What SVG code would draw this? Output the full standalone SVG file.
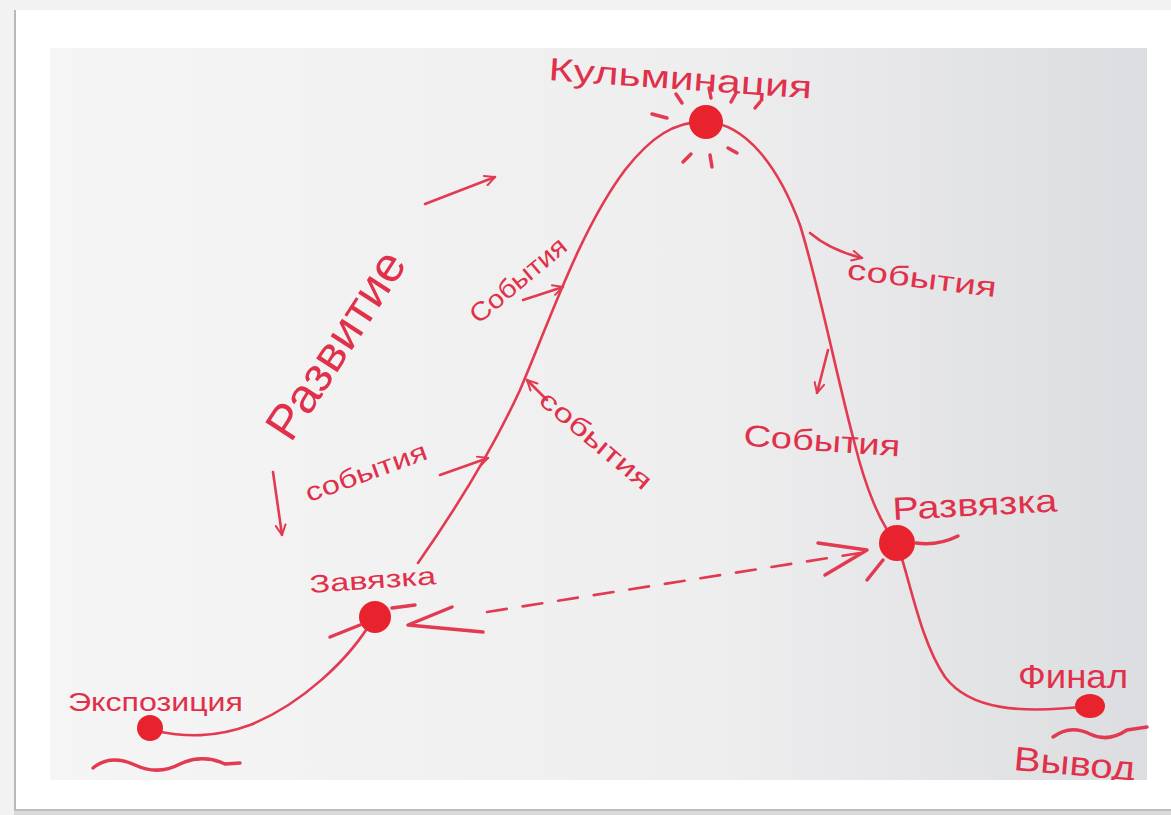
<svg xmlns="http://www.w3.org/2000/svg" width="1171" height="815" viewBox="0 0 1171 815">
<defs>
<linearGradient id="paper" x1="0" y1="0" x2="1" y2="0">
<stop offset="0" stop-color="#f5f5f5"/>
<stop offset="0.6" stop-color="#eeeeef"/>
<stop offset="1" stop-color="#dcdde0"/>
</linearGradient>
<clipPath id="photo"><rect x="50" y="48" width="1097" height="732"/></clipPath>
<marker id="ah" viewBox="0 0 12 12" refX="11" refY="6" markerWidth="12" markerHeight="12" markerUnits="userSpaceOnUse" orient="auto">
<path d="M1,1 L11,6 L1,11" fill="none" stroke="#e23a50" stroke-width="2" stroke-linecap="round"/>
</marker>
<style>
.ink{fill:none;stroke:#e23a50;stroke-width:2.6;stroke-linecap:round;stroke-linejoin:round}
.thick{stroke-width:3.5}
.dot{fill:#e8232e}
.lbl{font-family:"Liberation Sans","DejaVu Sans",sans-serif;fill:#e0304a}
</style>
</defs>
<!-- page frame -->
<rect x="0" y="0" width="1171" height="815" fill="#f2f2f2"/>
<rect x="16" y="10" width="1155" height="800" fill="#ffffff"/>
<rect x="14" y="10" width="2" height="800" fill="#b8b8b8"/>
<rect x="14" y="809" width="1157" height="2" fill="#bdbdbd"/>
<rect x="14" y="811" width="1157" height="4" fill="#dadada"/>
<rect x="50" y="48" width="1097" height="732" fill="url(#paper)"/>

<g id="connectors">
<path id="plot" class="ink" d="M418,563 C455,510 490,455 520,390 C550,320 580,230 625,170 C650,138 675,120 707,122 C745,124 778,165 800,225 C820,290 835,370 855,445 C865,485 880,525 897,543 C910,580 920,640 945,677 C970,710 1020,714 1090,706"/>
<path id="intro" class="ink" d="M374,617 C350,660 300,705 250,725 C215,738 185,737 155,731"/>
<path class="ink" d="M425,204 L495,177" marker-end="url(#ah)"/>
<path class="ink" d="M273,472 L282,535" marker-end="url(#ah)"/>
<path class="ink" d="M440,475 L488,458" marker-end="url(#ah)"/>
<path class="ink" d="M523,300 L563,287" marker-end="url(#ah)"/>
<path class="ink" d="M547,400 L527,380" marker-end="url(#ah)"/>
<path class="ink" d="M810,233 Q830,250 862,258" marker-end="url(#ah)"/>
<path class="ink" d="M828,350 L817,393" marker-end="url(#ah)"/>
<path id="dashed" class="ink" d="M487,612 L860,553" stroke-width="3" stroke-dasharray="20 16"/>
<path class="ink thick" d="M452,607 L408,625 L483,632"/>
<path class="ink thick" d="M818,543 L867,550 L825,575"/>
</g>

<g id="kulminacia">
<circle class="dot" cx="706" cy="122" r="17"/>
<path class="ink thick" d="M652,114 L667,118 M676,94 L682,103 M709,88 L711,98 M736,93 L731,102 M760,102 L755,108 M683,162 L691,154 M710,155 L712,167 M728,148 L737,153"/>
<text class="lbl" x="548" y="80" font-size="32" textLength="264" lengthAdjust="spacingAndGlyphs" transform="rotate(4 548 80)">Кульминация</text>
</g>

<g id="razvitie">
<text class="lbl" text-anchor="middle" font-size="48" textLength="215" lengthAdjust="spacingAndGlyphs" transform="translate(336,345) rotate(-57)" y="16">Развитие</text>
</g>

<g id="sobytia-left-upper">
<text class="lbl" text-anchor="middle" font-size="26" textLength="118" lengthAdjust="spacingAndGlyphs" transform="translate(518,280) rotate(-40)" y="9">События</text>
</g>
<g id="sobytia-left-lower">
<text class="lbl" text-anchor="middle" font-size="26" textLength="128" lengthAdjust="spacingAndGlyphs" transform="translate(366,472) rotate(-20)" y="9">события</text>
</g>
<g id="sobytia-diag">
<text class="lbl" text-anchor="middle" font-size="26" textLength="138" lengthAdjust="spacingAndGlyphs" transform="translate(596,440) rotate(40)" y="9">события</text>
</g>
<g id="sobytia-right-upper">
<text class="lbl" text-anchor="middle" font-size="28" textLength="150" lengthAdjust="spacingAndGlyphs" transform="translate(922,278) rotate(7)" y="10">события</text>
</g>
<g id="sobytia-right-lower">
<text class="lbl" text-anchor="middle" font-size="30" textLength="157" lengthAdjust="spacingAndGlyphs" transform="translate(822,440) rotate(4)" y="11">События</text>
</g>

<g id="razvyazka">
<circle class="dot" cx="897" cy="543" r="18"/>
<path class="ink thick" d="M916,543 Q938,546 958,536 M867,580 L883,560"/>
<text class="lbl" x="893" y="520" font-size="32" textLength="165" lengthAdjust="spacingAndGlyphs" transform="rotate(-3 893 520)">Развязка</text>
</g>

<g id="zavyazka">
<circle class="dot" cx="375" cy="617" r="16"/>
<path class="ink thick" d="M330,637 L360,625 M392,608 L415,605"/>
<text class="lbl" x="310" y="593" font-size="25" textLength="127" lengthAdjust="spacingAndGlyphs" transform="rotate(-4 310 593)">Завязка</text>
</g>

<g id="ekspozicia">
<circle class="dot" cx="150" cy="728" r="13"/>
<path class="ink thick" d="M93,768 C105,758 120,758 135,765 C150,772 165,772 180,764 C195,757 210,757 225,764 L240,763"/>
<text class="lbl" x="68" y="711" font-size="25" textLength="175" lengthAdjust="spacingAndGlyphs">Экспозиция</text>
</g>

<g id="final">
<ellipse class="dot" cx="1090" cy="706" rx="15" ry="12"/>
<path class="ink thick" d="M1053,737 C1065,728 1078,728 1090,734 C1102,740 1115,738 1127,730 L1147,727"/>
<text class="lbl" x="1018" y="688" font-size="34" textLength="110" lengthAdjust="spacingAndGlyphs">Финал</text>
<g clip-path="url(#photo)">
<text class="lbl" x="1013" y="770" font-size="34" textLength="122" lengthAdjust="spacingAndGlyphs" transform="rotate(5 1013 770)">Вывод</text>
</g>
</g>
</svg>
